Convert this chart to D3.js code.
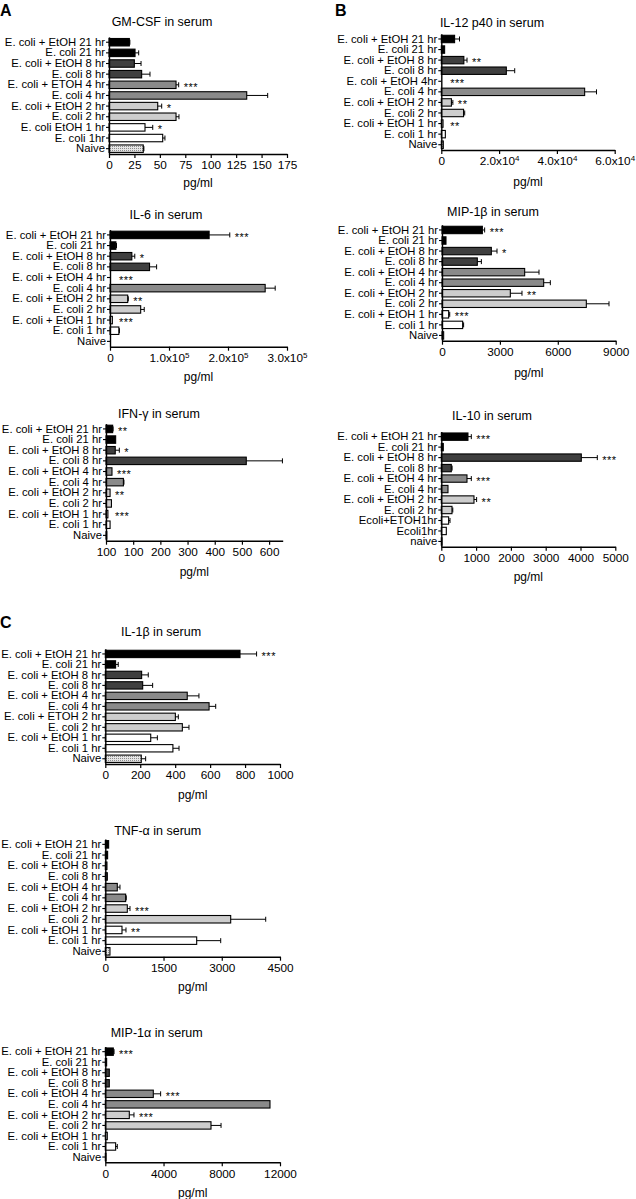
<!DOCTYPE html>
<html><head><meta charset="utf-8">
<script src="https://cdn.jsdelivr.net/npm/d3@7"></script>
<style>
body{margin:0;background:#fff}
svg{display:block}
text{font-family:"Liberation Sans",Arial,sans-serif;fill:#000}
</style>
</head><body>
<svg id="c" width="636" height="1199"></svg>
<script>
// ---------- DATA ----------
const catsStd = ["E. coli + EtOH 21 hr","E. coli 21 hr","E. coli + EtOH 8 hr","E. coli 8 hr","E. coli + EtOH 4 hr","E. coli 4 hr","E. coli + EtOH 2 hr","E. coli 2 hr","E. coli + EtOH 1 hr","E. coli 1 hr","Naive"];
const catsGM = ["E. coli + EtOH 21 hr","E. coli 21 hr","E. coli + EtOH 8 hr","E. coli 8 hr","E. coli + ETOH 4 hr","E. coli 4 hr","E. coli + EtOH 2 hr","E. coli 2 hr","E. coli EtOH 1 hr","E. coli 1hr","Naive"];
const catsIL12 = ["E. coli + EtOH 21 hr","E. coli 21 hr","E. coli + EtOH 8 hr","E. coli 8 hr","E. coli + EtOH 4hr","E. coli 4 hr","E. coli + EtOH 2 hr","E. coli 2 hr","E. coli + EtOH 1 hr","E. coli 1 hr","Naive"];
const catsIL10 = ["E. coli + EtOH 21 hr","E. coli 21 hr","E. coli + EtOH 8 hr","E. coli 8 hr","E. coli + EtOH 4 hr","E. coli 4 hr","E. coli + EtOH 2 hr","E. coli 2 hr","Ecoli+ETOH1hr","Ecoli1hr","naive"];
const catsIL1b = ["E. coli + EtOH 21 hr","E. coli 21 hr","E. coli + EtOH 8 hr","E. coli 8 hr","E. coli + EtOH 4 hr","E. coli 4 hr","E. coli + ETOH 2 hr","E. coli 2 hr","E. coli + EtOH 1 hr","E. coli 1 hr","Naive"];
const groupOfBar = ["21","21","8","8","4","4","2","2","1","1","naive"];

const gmcsfVals  = [20, 25.6, 24.9, 32.1, 65.9, 135.4, 47.9, 65.9, 35.4, 52.8, 33.7];
const gmcsfErr   = [20.5, 29.2, 31.5, 40.3, 68.5, 156, 51.8, 68.8, 43, 55, 34.3];
const gmcsfStars = ["","","","","***","","*","","*","",""];
const gmcsfTicks = [0,25,50,75,100,125,150,175];
const gmcsfTickLabels = ["0","25","50","75","100","125","150","175"];

const il6Vals  = [168000, 10000, 37000, 67000, 0, 263000, 30000, 52000, 4000, 15000, 0];
const il6Err   = [203000, 11000, 42000, 79000, 0, 280000, 31000, 58000, 4000, 16000, 0];
const il6Stars = ["***","","*","","***","","**","","***","",""];
const il6Ticks = [0,100000,200000,300000];
const il6TickLabels = ["0","1.0x10^5","2.0x10^5","3.0x10^5"];

const ifngVals  = [24.5, 35.5, 34, 516, 22, 64, 15, 20, 7, 15, 3];
const ifngErr   = [26, 35.5, 49, 649, 22, 66, 15, 20, 7, 15, 3];
const ifngStars = ["**","","*","","***","","**","","***","",""];
const ifngTicks = [0,100,200,300,400,500,600];
const ifngTickLabels = ["100","100","200","300","400","500","600"];

const il12Vals  = [4600, 1150, 7800, 22500, 0, 49600, 3500, 7700, 600, 1400, 700];
const il12Err   = [6300, 1150, 8900, 25400, 0, 53700, 4000, 8100, 600, 1400, 700];
const il12Stars = ["","","**","","***","","**","","**","",""];
const il12Ticks = [0,20000,40000,60000];
const il12TickLabels = ["0","2.0x10^4","4.0x10^4","6.0x10^4"];

const mip1bVals  = [2090, 207, 2556, 1830, 4283, 5268, 3540, 7478, 345, 1070, 86];
const mip1bErr   = [2210, 207, 2850, 2040, 5026, 5613, 4145, 8653, 400, 1120, 86];
const mip1bStars = ["***","","*","","","","**","","***","",""];
const mip1bTicks = [0,3000,6000,9000];
const mip1bTickLabels = ["0","3000","6000","9000"];

const il10Vals  = [766, 57, 4023, 287, 738, 192, 939, 307, 211, 144, 20];
const il10Err   = [862, 57, 4483, 310, 862, 192, 1015, 330, 250, 144, 20];
const il10Stars = ["***","","***","","***","","**","","","",""];
const il10Ticks = [0,1000,2000,3000,4000,5000];
const il10TickLabels = ["0","1000","2000","3000","4000","5000"];

const il1bVals  = [771, 59, 208, 214, 469, 594, 401, 441, 260, 387, 206];
const il1bErr   = [866, 74, 246, 271, 536, 632, 418, 479, 298, 422, 231];
const il1bStars = ["***","","","","","","","","","",""];
const il1bTicks = [0,200,400,600,800,1000];
const il1bTickLabels = ["0","200","400","600","800","1000"];

const tnfVals  = [86, 60, 43, 52, 309, 524, 567, 3230, 430, 2354, 120];
const tnfErr   = [86, 60, 43, 52, 378, 540, 636, 4132, 533, 2973, 120];
const tnfStars = ["","","","","","","***","","**","",""];
const tnfTicks = [0,1500,3000,4500];
const tnfTickLabels = ["0","1500","3000","4500"];

const mip1aVals  = [550, 92, 275, 275, 3297, 11312, 1649, 7260, 137, 710, 46];
const mip1aErr   = [600, 92, 275, 275, 3801, 11312, 1970, 7950, 137, 824, 46];
const mip1aStars = ["***","","","","***","","***","","","",""];
const mip1aTicks = [0,4000,8000,12000];
const mip1aTickLabels = ["0","4000","8000","12000"];

const titles = ["GM-CSF in serum","IL-6 in serum","IFN-\u03b3 in serum","IL-12 p40 in serum","MIP-1\u03b2 in serum","IL-10 in serum","IL-1\u03b2 in serum","TNF-\u03b1 in serum","MIP-1\u03b1 in serum"];
const unitLabel = "pg/ml";
const panelLetters = ["A","B","C"];

// ---------- LAYOUT / STYLE ----------
const fillFor = {"21":"#000000","8":"#3f3f3f","4":"#8a8a8a","2":"#cdcdcd","1":"#ffffff","naive":"url(#dots)"};

const panels = [
 {cats:catsGM, vals:gmcsfVals, err:gmcsfErr, stars:gmcsfStars, ticks:gmcsfTicks, labels:gmcsfTickLabels, max:175,
  x0:109, x1:287, yTop:36.9, axisY:154, titleX:162, titleY:25.5, unitY:187},
 {cats:catsStd, vals:il6Vals, err:il6Err, stars:il6Stars, ticks:il6Ticks, labels:il6TickLabels, max:300000,
  x0:110, x1:287, yTop:229.6, axisY:346.7, titleX:166, titleY:218.5, unitY:381},
 {cats:catsStd, vals:ifngVals, err:ifngErr, stars:ifngStars, ticks:ifngTicks, labels:ifngTickLabels, max:650,
  x0:106, x1:282.7, yTop:423.6, axisY:540.7, titleX:159, titleY:417.5, unitY:576},
 {cats:catsIL12, vals:il12Vals, err:il12Err, stars:il12Stars, ticks:il12Ticks, labels:il12TickLabels, max:60000,
  x0:441.3, x1:614.7, yTop:33.7, axisY:150, titleX:492, titleY:27, unitY:186},
 {cats:catsStd, vals:mip1bVals, err:mip1bErr, stars:mip1bStars, ticks:mip1bTicks, labels:mip1bTickLabels, max:9000,
  x0:442, x1:615.7, yTop:224.7, axisY:340.7, titleX:493, titleY:216, unitY:377},
 {cats:catsIL10, vals:il10Vals, err:il10Err, stars:il10Stars, ticks:il10Ticks, labels:il10TickLabels, max:5000,
  x0:441.3, x1:615.3, yTop:431.4, axisY:546.7, titleX:492, titleY:419.5, unitY:581},
 {cats:catsIL1b, vals:il1bVals, err:il1bErr, stars:il1bStars, ticks:il1bTicks, labels:il1bTickLabels, max:1000,
  x0:105.3, x1:280, yTop:648.7, axisY:764, titleX:161, titleY:636, unitY:799},
 {cats:catsStd, vals:tnfVals, err:tnfErr, stars:tnfStars, ticks:tnfTicks, labels:tnfTickLabels, max:4500,
  x0:105.3, x1:280, yTop:839, axisY:956.7, titleX:157.7, titleY:834.5, unitY:991},
 {cats:catsStd, vals:mip1aVals, err:mip1aErr, stars:mip1aStars, ticks:mip1aTicks, labels:mip1aTickLabels, max:12000,
  x0:105.3, x1:280, yTop:1046.4, axisY:1162.3, titleX:156.7, titleY:1036.8, unitY:1197},
];
const letterPos = [{x:0,y:16},{x:335,y:16},{x:0,y:628}];

const svg = d3.select("#c");
const defs = svg.append("defs");
const pat = defs.append("pattern").attr("id","dots").attr("patternUnits","userSpaceOnUse")
  .attr("width",2).attr("height",2);
pat.append("rect").attr("width",2).attr("height",2).attr("fill","#e6e6e6");
pat.append("rect").attr("width",1).attr("height",1).attr("fill","#8c8c8c");

function drawPanel(p, k) {
  const g = svg.append("g");
  const x = d3.scaleLinear().domain([0, p.max]).range([p.x0, p.x1]);
  const n = p.cats.length;
  const y = d3.scaleBand().domain(d3.range(n)).range([p.yTop, p.axisY]).paddingInner(0.3).paddingOuter(0.15);

  // title
  g.append("text").attr("x", p.titleX).attr("y", p.titleY).attr("text-anchor","middle")
    .style("font-size","12.5px").text(titles[k]);

  // bars
  g.selectAll("rect.bar").data(p.vals).join("rect").attr("class","bar")
    .attr("x", x(0)).attr("y", (d,i)=>y(i))
    .attr("width", d => Math.max(0, x(d)-x(0))).attr("height", y.bandwidth())
    .attr("fill", (d,i)=> fillFor[groupOfBar[i]])
    .attr("stroke", "#000").attr("stroke-width", 1.1)
    .style("display", d => d > 0 ? null : "none");

  // error bars
  p.err.forEach((e,i) => {
    const v = p.vals[i];
    if (e > v) {
      const cy = y(i) + y.bandwidth()/2;
      g.append("line").attr("x1", x(v)).attr("x2", x(e)).attr("y1", cy).attr("y2", cy)
        .attr("stroke","#000").attr("stroke-width",1);
      g.append("line").attr("x1", x(e)).attr("x2", x(e)).attr("y1", cy-2.5).attr("y2", cy+2.5)
        .attr("stroke","#000").attr("stroke-width",1);
    }
  });

  // stars
  p.stars.forEach((s,i) => {
    if (!s) return;
    const cy = y(i) + y.bandwidth()/2;
    const xe = Math.max(x(p.vals[i]), x(p.err[i]));
    g.append("text").attr("x", Math.max(xe + 5, p.x0 + 9)).attr("y", cy + 6)
      .style("font-size","11px").style("letter-spacing","0.5px").text(s);
  });

  // y axis
  const ya = g.append("g").attr("transform", `translate(${p.x0},0)`)
    .call(d3.axisLeft(y).tickSize(3).tickPadding(1).tickSizeOuter(0).tickFormat(i => p.cats[i]));
  ya.selectAll("text").style("font-size","11.3px").attr("fill","#000");
  ya.select(".domain").attr("stroke-width",1.4);
  ya.selectAll(".tick line").attr("stroke-width",1.1);

  // x axis
  const xa = g.append("g").attr("transform", `translate(0,${p.axisY})`)
    .call(d3.axisBottom(x).tickValues(p.ticks).tickSize(4).tickPadding(3).tickSizeOuter(0)
      .tickFormat((d,i) => p.labels[i]));
  xa.select(".domain").attr("stroke-width",1.4);
  xa.selectAll(".tick line").attr("stroke-width",1.2);
  xa.selectAll(".tick text").style("font-size","11.8px").attr("fill","#000").each(function(){
    const t = d3.select(this);
    const s = t.text();
    if (s.includes("^")) {
      const [base, sup] = s.split("^");
      t.text(base);
      t.append("tspan").attr("dy","-0.5em").style("font-size","8px").text(sup);
    }
  });

  // unit label
  g.append("text").attr("x", (p.x0+p.x1)/2).attr("y", p.unitY).attr("text-anchor","middle")
    .style("font-size","12px").text(unitLabel);
}

panels.forEach(drawPanel);

panelLetters.forEach((L,i) => {
  svg.append("text").attr("x", letterPos[i].x).attr("y", letterPos[i].y)
    .style("font-size","16px").style("font-weight","bold").text(L);
});
</script>
</body></html>
